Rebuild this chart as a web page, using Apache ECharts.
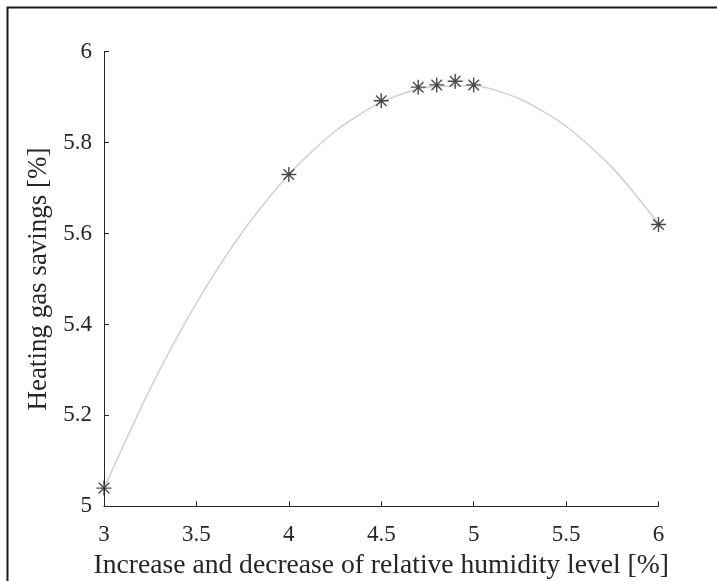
<!DOCTYPE html>
<html>
<head>
<meta charset="utf-8">
<script src="https://cdn.jsdelivr.net/npm/echarts@6/dist/echarts.min.js"></script>
<style>
  html, body { margin: 0; padding: 0; background: #fff; }
  #chart { width: 717px; height: 581px; }
</style>
</head>
<body>
<div id="chart"></div>
<script>
// measured points (asterisks)
const humidity = [3, 4, 4.5, 4.7, 4.8, 4.9, 5, 6]
const savings = [5.04, 5.73, 5.892, 5.922, 5.927, 5.935, 5.927, 5.62]

// fitted curve
const fitX = [3, 3.25, 3.5, 3.75, 4, 4.25, 4.5, 4.75, 5, 5.25, 5.5, 5.75, 6]
const fitY = [5.04, 5.259, 5.447, 5.604, 5.73, 5.825, 5.889, 5.922, 5.925, 5.896, 5.836, 5.745, 5.622]

const xTicks = [3, 3.5, 4, 4.5, 5, 5.5, 6]
const yTicks = [5, 5.2, 5.4, 5.6, 5.8, 6]

const font = '"Liberation Serif", "DejaVu Serif", serif'
const ink = '#262626'
const star = 'path://M8,0L8,16M0,8L16,8M2.4,2.4L13.6,13.6M2.4,13.6L13.6,2.4'

const chart = echarts.init(document.getElementById('chart'))

chart.setOption({
  animation: false,
  backgroundColor: '#fff',
  grid: {
    left: 104,
    right: 58.5,
    top: 51.7,
    bottom: 74.7,
    outerBoundsMode: 'none'
  },
  graphic: [{
    type: 'rect',
    shape: { x: 7.5, y: 7.5, width: 760, height: 640 },
    style: { fill: 'none', stroke: '#1a1a1a', lineWidth: 2 }
  }],
  xAxis: {
    type: 'value',
    min: xTicks[0],
    max: xTicks[xTicks.length - 1],
    interval: 0.5,
    name: 'Increase and decrease of relative humidity level [%]',
    nameLocation: 'middle',
    nameGap: 45,
    nameTextStyle: { fontFamily: font, fontSize: 27.6, color: ink },
    axisLine: { show: true, lineStyle: { color: ink, width: 1 } },
    axisTick: { show: true, inside: true, length: 5, lineStyle: { color: ink } },
    axisLabel: { fontFamily: font, fontSize: 23, color: ink, margin: 17,
      formatter: v => String(v) },
    splitLine: { show: false }
  },
  yAxis: {
    type: 'value',
    min: yTicks[0],
    max: yTicks[yTicks.length - 1],
    interval: 0.2,
    name: 'Heating gas savings [%]',
    nameLocation: 'middle',
    nameGap: 50,
    nameTextStyle: { fontFamily: font, fontSize: 27, color: ink },
    axisLine: { show: true, lineStyle: { color: ink, width: 1 } },
    axisTick: { show: true, inside: true, length: 5, lineStyle: { color: ink } },
    axisLabel: { fontFamily: font, fontSize: 23, color: ink, margin: 12,
      formatter: v => String(Math.round(v * 10) / 10) },
    splitLine: { show: false }
  },
  series: [
    {
      type: 'line',
      data: fitX.map((x, i) => [x, fitY[i]]),
      smooth: 0.25,
      showSymbol: false,
      lineStyle: { color: '#d2d2d2', width: 1.5 },
      z: 2
    },
    {
      type: 'scatter',
      data: humidity.map((x, i) => [x, savings[i]]),
      symbol: star,
      symbolSize: 15,
      itemStyle: { color: 'none', borderColor: '#1e1e1e', borderWidth: 1.4 },
      z: 3
    }
  ]
})
</script>
</body>
</html>
